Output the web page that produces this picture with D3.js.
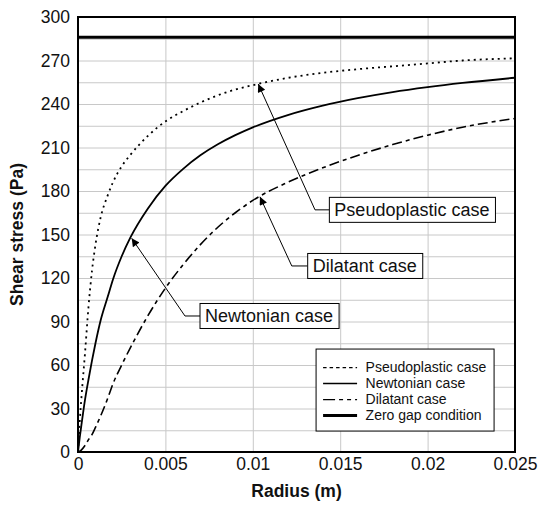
<!DOCTYPE html>
<html>
<head>
<meta charset="utf-8">
<script src="https://cdn.jsdelivr.net/npm/d3@7/dist/d3.min.js"></script>
<style>
  body { margin: 0; background: #fff; }
  svg { display: block; font-family: "Liberation Sans", Arial, sans-serif; }
  .grid line { stroke: #c8c8c8; stroke-width: 1; }
  .grid .domain { display: none; }
  .axis .domain, .axis line { display: none; }
  .axis text { font-size: 17.5px; fill: #111; }
  .axis-title { font-size: 17.5px; font-weight: bold; fill: #111; }
  .curve { fill: none; stroke: #000; }
  .callout line, .callout polyline { stroke: #000; stroke-width: 1; fill: none; }
  .callout rect { fill: #fff; stroke: #000; stroke-width: 1; }
  .callout text { font-size: 18px; fill: #111; }
  .legend text { font-size: 14px; fill: #111; }
</style>
</head>
<body>
<div id="chart"></div>
<script>
// Data
var radius = [0, 0.0001, 0.0002, 0.0004, 0.0006, 0.0008, 0.001, 0.0013, 0.0017, 0.002,
  0.0025, 0.003, 0.004, 0.005, 0.006, 0.007, 0.008, 0.009, 0.010, 0.012,
  0.014, 0.016, 0.018, 0.020, 0.022, 0.025];
var pseudoplastic = [0, 21, 38, 68, 100, 125, 143, 162, 177, 186,
  197, 205, 218, 228, 235, 241, 246, 250, 253, 258,
  261.5, 264, 266, 268, 270, 271.5];
var newtonian = [0, 10, 19, 36, 50, 63, 75, 91, 107, 119,
  135, 148, 168, 183.5, 195.1, 204.6, 212.2, 218.5, 223.9, 232.4,
  238.9, 244, 248.2, 251.6, 254.5, 258.1];
var dilatant = [0, 0.5, 1.5, 4.5, 8.5, 12, 17, 25, 37, 47,
  60, 72, 94, 113, 129, 143, 155, 165, 173.5, 186,
  196, 204.5, 212, 218.5, 224, 230];
var zeroGapStress = 286;

var seriesNames = ["Pseudoplastic case", "Newtonian case", "Dilatant case", "Zero gap condition"];
var xTicks = [0, 0.005, 0.01, 0.015, 0.02, 0.025];
var yTicks = [0, 30, 60, 90, 120, 150, 180, 210, 240, 270, 300];

// callouts: [label, arrow tip r, tip stress, elbow r, elbow stress, box r]
var callouts = [
  ["Pseudoplastic case", 0.01031, 253.8, 0.01356, 167, 0.01438],
  ["Dilatant case", 0.01041, 176, 0.01223, 128.3, 0.01314],
  ["Newtonian case", 0.00307, 147.4, 0.00612, 93.8, 0.00698]
];

// line styles per series (not data)
var STYLES = {
  "Pseudoplastic case": { width: 1.8, dash: "2,4", legendWidth: 1.2, legendDash: "3.5,3" },
  "Newtonian case": { width: 1.8, dash: null, legendWidth: 1.4, legendDash: null },
  "Dilatant case": { width: 1.6, dash: "10,4,4,4", legendWidth: 1.2, legendDash: "12,4,4,4,4,4" },
  "Zero gap condition": { width: 3, dash: null, legendWidth: 3, legendDash: null }
};

var render = function() {
  var width = 539;
  var height = 506;
  var margins = { top: 17, right: 24, bottom: 54, left: 78 };
  var chartWidth = width - margins.left - margins.right;
  var chartHeight = height - margins.top - margins.bottom;

  var containerElement = d3.select("#chart");
  containerElement.html("");

  var svg = containerElement.append("svg")
    .attr("width", width)
    .attr("height", height);

  var chartElement = svg.append("g")
    .attr("transform", `translate(${margins.left},${margins.top})`);

  var xScale = d3.scaleLinear().domain([0, 0.025]).range([0, chartWidth]);
  var yScale = d3.scaleLinear().domain([0, 300]).range([chartHeight, 0]);

  // Grid: vertical at major x ticks, horizontal every 15 Pa
  chartElement.append("g")
    .attr("class", "grid")
    .call(d3.axisBottom(xScale).tickValues(xTicks).tickSize(chartHeight).tickFormat(""));

  chartElement.append("g")
    .attr("class", "grid")
    .call(d3.axisLeft(yScale).tickValues(d3.range(0, 301, 15)).tickSize(-chartWidth).tickFormat(""));

  // Axes labels
  chartElement.append("g")
    .attr("class", "x axis")
    .attr("transform", `translate(0,${chartHeight})`)
    .call(d3.axisBottom(xScale).tickValues(xTicks).tickSize(0).tickPadding(6)
      .tickFormat(d => d === 0 ? "0" : String(+d.toFixed(3))));

  chartElement.append("g")
    .attr("class", "y axis")
    .call(d3.axisLeft(yScale).tickValues(yTicks).tickSize(0).tickPadding(8));

  svg.append("text")
    .attr("class", "axis-title")
    .attr("text-anchor", "middle")
    .attr("x", margins.left + chartWidth / 2)
    .attr("y", 497)
    .text("Radius (m)");

  svg.append("text")
    .attr("class", "axis-title")
    .attr("text-anchor", "middle")
    .attr("transform", `translate(23,${margins.top + chartHeight / 2}) rotate(-90)`)
    .text("Shear stress (Pa)");

  // Curves
  var line = d3.line()
    .x(d => xScale(d[0]))
    .y(d => yScale(d[1]))
    .curve(d3.curveMonotoneX);

  var curves = [
    [seriesNames[0], pseudoplastic],
    [seriesNames[1], newtonian],
    [seriesNames[2], dilatant]
  ];

  curves.forEach(function(c) {
    var st = STYLES[c[0]];
    chartElement.append("path")
      .attr("class", "curve")
      .attr("d", line(radius.map((r, i) => [r, c[1][i]])))
      .attr("stroke-width", st.width)
      .attr("stroke-dasharray", st.dash);
  });

  chartElement.append("line")
    .attr("class", "curve")
    .attr("x1", xScale(0))
    .attr("x2", xScale(0.025))
    .attr("y1", yScale(zeroGapStress))
    .attr("y2", yScale(zeroGapStress))
    .attr("stroke-width", STYLES["Zero gap condition"].width);

  // Callouts
  var defs = svg.append("defs");
  defs.append("marker")
    .attr("id", "arrow")
    .attr("viewBox", "0 0 10 10")
    .attr("refX", 10)
    .attr("refY", 5)
    .attr("markerWidth", 10)
    .attr("markerHeight", 8)
    .attr("markerUnits", "userSpaceOnUse")
    .attr("orient", "auto-start-reverse")
    .append("path")
    .attr("d", "M0,0 L10,5 L0,10 z")
    .attr("fill", "#000");

  callouts.forEach(function(c) {
    var g = chartElement.append("g").attr("class", "callout");
    var bx = xScale(c[5]);
    var by = yScale(c[4]);
    g.append("polyline")
      .attr("points", [[bx, by], [xScale(c[3]), by], [xScale(c[1]), yScale(c[2])]].map(p => p.join(",")).join(" "))
      .attr("marker-end", "url(#arrow)");
    var text = g.append("text")
      .attr("x", bx + 5)
      .attr("y", by)
      .attr("dy", "0.35em")
      .text(c[0]);
    var w = text.node().getComputedTextLength();
    g.insert("rect", "text")
      .attr("x", bx)
      .attr("y", by - 12.5)
      .attr("width", w + 11)
      .attr("height", 25);
  });

  // Legend
  var legend = chartElement.append("g")
    .attr("class", "legend")
    .attr("transform", `translate(${xScale(0.01362)},${yScale(71)})`);

  legend.append("rect")
    .attr("width", 178)
    .attr("height", 82)
    .attr("fill", "#fff")
    .attr("stroke", "#000")
    .attr("stroke-width", 1);

  seriesNames.forEach(function(name, i) {
    var st = STYLES[name];
    var yRow = 18.5 + i * 16;
    legend.append("line")
      .attr("x1", 7)
      .attr("x2", 41)
      .attr("y1", yRow)
      .attr("y2", yRow)
      .attr("stroke", "#000")
      .attr("stroke-width", st.legendWidth)
      .attr("stroke-dasharray", st.legendDash);
    legend.append("text")
      .attr("x", 49.5)
      .attr("y", yRow)
      .attr("dy", "0.35em")
      .text(name);
  });

  // Plot border
  chartElement.append("rect")
    .attr("width", chartWidth)
    .attr("height", chartHeight)
    .attr("fill", "none")
    .attr("stroke", "#000")
    .attr("stroke-width", 2);
};

window.onload = render;
</script>
</body>
</html>
